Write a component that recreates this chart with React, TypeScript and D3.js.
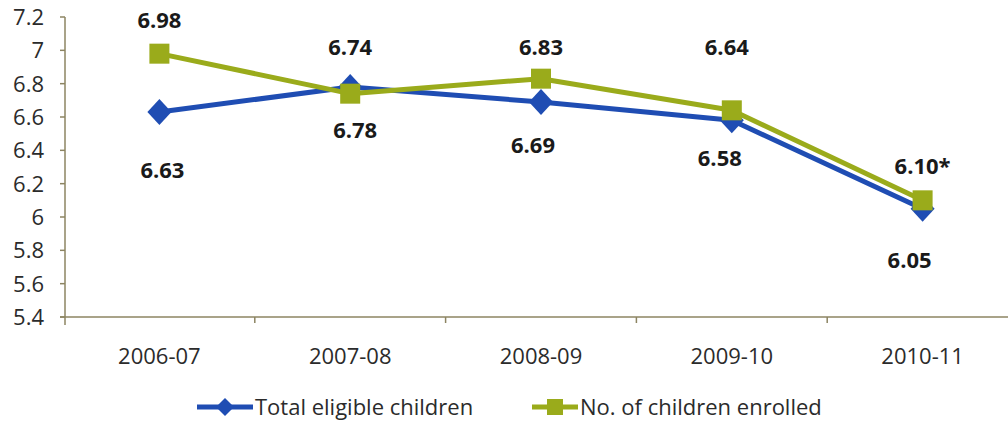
import React from "react";
import * as d3 from "d3";

// Academic years on the category axis
const years = ["2006-07", "2007-08", "2008-09", "2009-10", "2010-11"];

// Series values
const totalEligible = [6.63, 6.78, 6.69, 6.58, 6.05];
const enrolled = [6.98, 6.74, 6.83, 6.64, 6.1];

// Value label text (the last enrolled value carries a footnote mark)
const totalEligibleLabels = ["6.63", "6.78", "6.69", "6.58", "6.05"];
const enrolledLabels = ["6.98", "6.74", "6.83", "6.64", "6.10*"];

// Y axis ticks
const yTicks = [5.4, 5.6, 5.8, 6, 6.2, 6.4, 6.6, 6.8, 7, 7.2];

// Label placement relative to each marker (pixels): [dx, dy to label centre]
const totalLabelOffsets: [number, number][] = [
  [3, 58],
  [5, 43],
  [-8, 43],
  [-12, 38],
  [-13, 51],
];
const enrolledLabelOffsets: [number, number][] = [
  [0, -34],
  [0, -47],
  [0, -32],
  [-5, -63],
  [0, -34],
];

const W = 1008;
const H = 424;
const BLUE = "#1f4db3";
const GREEN = "#9aab1b";
const AXIS = "#8c8462";
const FONT = "'Open Sans', sans-serif";

export default function App() {
  const x = d3.scaleBand<string>().domain(years).range([64, 1018]);
  const y = d3.scaleLinear().domain([5.4, 7.2]).range([317, 17]);
  const cx = (d: string) => (x(d) ?? 0) + x.bandwidth() / 2;

  const line = d3
    .line<number>()
    .x((_, i) => cx(years[i]))
    .y((v) => y(v));

  const x0 = x.range()[0];
  const yBase = y(5.4);
  const capOffset = 8; // half cap-height, to centre text vertically

  const diamond = (px: number, py: number, hw: number, hh: number) =>
    `M${px},${py - hh}L${px + hw},${py}L${px},${py + hh}L${px - hw},${py}Z`;

  return (
    <svg
      width={W}
      height={H}
      style={{ position: "absolute", left: 0, top: 0, background: "#fff" }}
      fontFamily={FONT}
    >
      {/* Y axis */}
      <line x1={x0 + 1} x2={x0 + 1} y1={y(7.2)} y2={yBase + 8} stroke={AXIS} strokeWidth={1.5} />
      {yTicks.map((t) => (
        <g key={t}>
          <line x1={x0 - 4} x2={x0 + 1} y1={y(t)} y2={y(t)} stroke={AXIS} strokeWidth={1.5} />
          <text x={44} y={y(t) + capOffset} textAnchor="end" fontSize={22} fill="#2b2b2b">
            {String(t)}
          </text>
        </g>
      ))}

      {/* X axis */}
      <line x1={x0 - 4} x2={W} y1={yBase} y2={yBase} stroke={AXIS} strokeWidth={1.5} />
      {years.slice(1).map((d) => (
        <line key={d} x1={x(d)} x2={x(d)} y1={yBase} y2={yBase + 6} stroke={AXIS} strokeWidth={1.5} />
      ))}
      {years.map((d) => (
        <text key={d} x={cx(d)} y={356 + capOffset} textAnchor="middle" fontSize={22} fill="#2b2b2b">
          {d}
        </text>
      ))}

      {/* Total eligible children */}
      <path d={line(totalEligible) ?? ""} fill="none" stroke={BLUE} strokeWidth={5} strokeLinejoin="round" />
      {totalEligible.map((v, i) => (
        <path key={i} d={diamond(cx(years[i]), y(v), 12, 13)} fill={BLUE} />
      ))}

      {/* No. of children enrolled */}
      <path d={line(enrolled) ?? ""} fill="none" stroke={GREEN} strokeWidth={5} strokeLinejoin="round" />
      {enrolled.map((v, i) => (
        <rect key={i} x={cx(years[i]) - 10} y={y(v) - 10} width={20} height={20} fill={GREEN} />
      ))}

      {/* Value labels */}
      {totalEligible.map((v, i) => (
        <text
          key={"t" + i}
          x={cx(years[i]) + totalLabelOffsets[i][0]}
          y={y(v) + totalLabelOffsets[i][1] + capOffset}
          textAnchor="middle"
          fontSize={22}
          fontWeight="bold"
          fill="#1a1a1a"
        >
          {totalEligibleLabels[i]}
        </text>
      ))}
      {enrolled.map((v, i) => (
        <text
          key={"e" + i}
          x={cx(years[i]) + enrolledLabelOffsets[i][0]}
          y={y(v) + enrolledLabelOffsets[i][1] + capOffset}
          textAnchor="middle"
          fontSize={22}
          fontWeight="bold"
          fill="#1a1a1a"
        >
          {enrolledLabels[i]}
        </text>
      ))}

      {/* Legend */}
      <g transform="translate(0,407)">
        <line x1={197} x2={253} y1={0} y2={0} stroke={BLUE} strokeWidth={5} />
        <path d={diamond(225, 0, 9, 9)} fill={BLUE} />
        <text x={255} y={capOffset} fontSize={22} fill="#2b2b2b">
          Total eligible children
        </text>
        <line x1={532} x2={578} y1={0} y2={0} stroke={GREEN} strokeWidth={5} />
        <rect x={547} y={-8} width={16} height={16} fill={GREEN} />
        <text x={580} y={capOffset} fontSize={22} fill="#2b2b2b">
          No. of children enrolled
        </text>
      </g>
    </svg>
  );
}
